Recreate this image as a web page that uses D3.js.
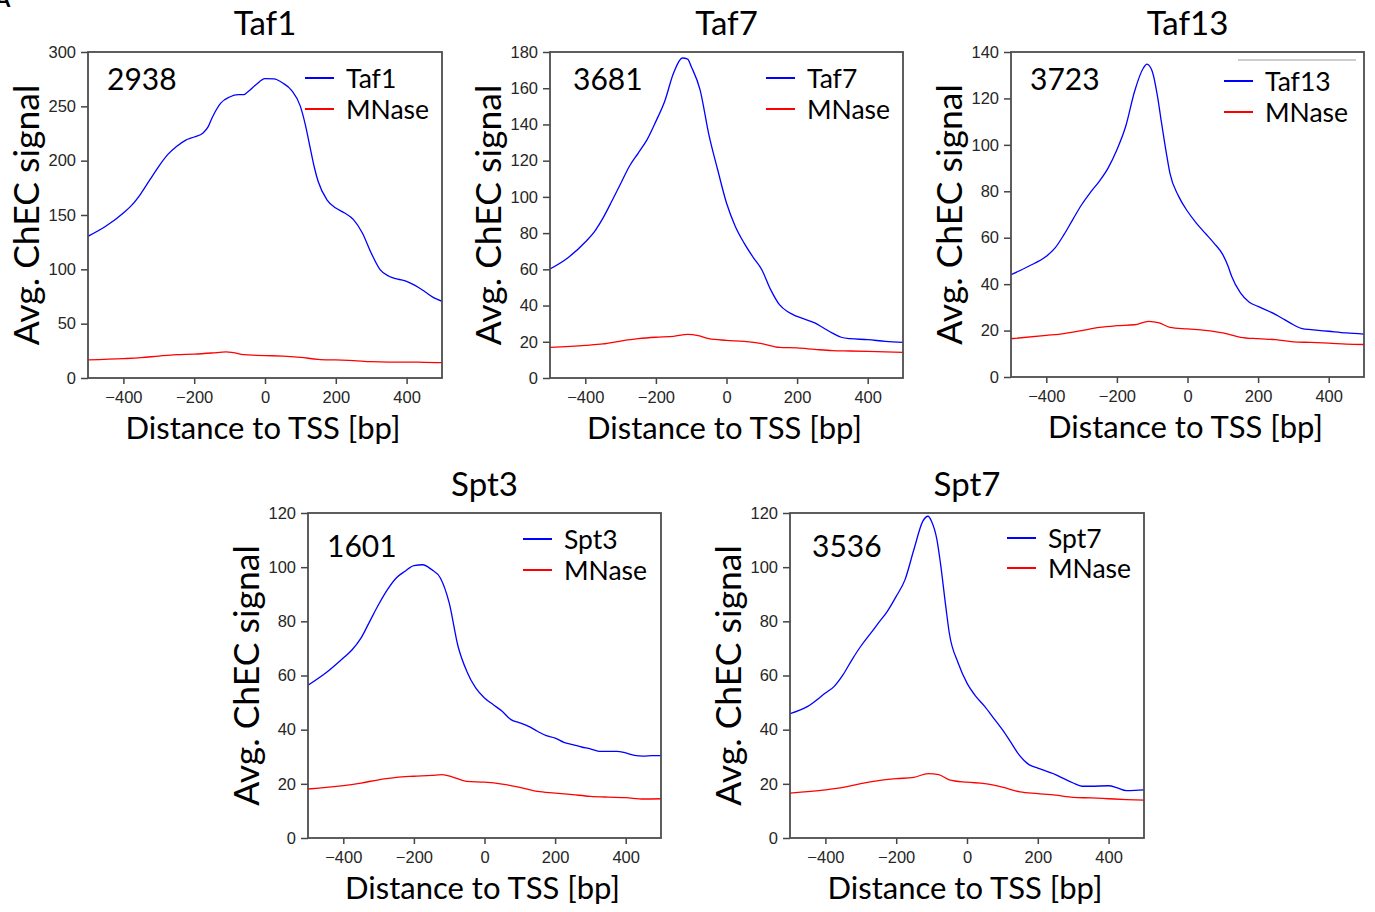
<!DOCTYPE html>
<html>
<head>
<meta charset="utf-8">
<script src="https://cdn.jsdelivr.net/npm/d3@7"></script>
<style>
  html, body { margin: 0; padding: 0; background: #fff; }
  svg { display: block; }
</style>
</head>
<body>
<svg id="chart" width="1375" height="912"></svg>
<script>
// ---------------- DATA ----------------
const xTicks = [-400, -200, 0, 200, 400];
const xDomain = [-500, 500];

// Taf1
const taf1Pos = [-500,-450,-400,-375,-350,-325,-300,-275,-250,-225,-200,-175,-160,-150,-125,-100,-75,-60,-50,-25,0,25,50,75,100,115,125,140,150,175,200,225,250,275,300,325,350,375,400,425,450,475,500];
const taf1Vals = [130.4,139.6,151.8,159.5,170,182.5,194.8,205.5,213,218.7,221.8,225.5,231.6,239,253,258.6,260.7,260.7,262.9,270,275.5,275.2,271.5,264.7,250,231.6,216,193,181,164,156.4,151.8,145.7,133.4,115,99.7,93.6,91,89,85,79.8,74.2,70.6];
const taf1MPos = [-500,-400,-350,-300,-250,-200,-150,-110,-90,-60,-25,0,50,100,150,200,250,300,350,400,450,500];
const taf1MVals = [16.6,17.8,18.7,20.2,21.5,22,23,24,23.3,21.5,20.9,20.6,20.2,19,17.2,16.6,16,15,14.7,14.7,14.4,14.1];
const taf1YTicks = [0, 50, 100, 150, 200, 250, 300];

// Taf7
const taf7Pos = [-500,-450,-400,-375,-350,-325,-300,-275,-250,-225,-200,-175,-150,-125,-110,-100,-75,-50,-25,0,25,50,75,100,125,150,175,200,250,275,300,325,350,400,450,500];
const taf7Vals = [60.2,66.3,75.1,80.6,88.3,97.6,107.3,116.9,124.2,131.6,141.7,152.8,168.4,176.7,176.1,172,159.2,134.4,115,96.6,83.7,74.5,66.8,59.8,48.8,40.5,36.4,34,30.4,27.6,24.8,22.5,21.7,21.2,20.2,19.7];
const taf7MPos = [-500,-400,-350,-300,-250,-200,-150,-110,-80,-50,0,50,100,150,200,250,300,350,400,450,500];
const taf7MVals = [16.9,18,18.8,20.4,21.7,22.5,23,24.1,23.4,21.7,20.8,20.2,19,16.9,16.6,15.8,15.1,14.9,14.7,14.4,14.2];
const taf7YTicks = [0, 20, 40, 60, 80, 100, 120, 140, 160, 180];

// Taf13
const taf13Pos = [-500,-450,-400,-375,-350,-325,-300,-275,-250,-225,-200,-175,-150,-125,-115,-100,-85,-75,-60,-50,-25,0,25,50,75,100,115,125,150,175,200,250,275,300,325,350,400,450,500];
const taf13Vals = [44.1,47.7,52,55.6,61.3,67.8,74.2,79.5,84.3,90,97.9,108,123,133.1,134.8,131.7,120.9,110.9,96.5,87.9,77.8,71.4,66.3,62,57.7,52.7,47.7,43.4,36.2,32.2,30.4,26.9,24.7,22.5,20.8,20.4,19.7,19,18.5];
const taf13MPos = [-500,-400,-350,-300,-250,-200,-150,-110,-80,-50,0,50,100,150,200,250,300,350,400,450,500];
const taf13MVals = [16.5,17.9,18.7,20,21.4,22.1,22.5,24,23.3,21.4,20.7,20.1,19,17.1,16.5,16.1,15.1,14.9,14.6,14.2,14];
const taf13YTicks = [0, 20, 40, 60, 80, 100, 120, 140];

// Spt3
const spt3Pos = [-500,-450,-400,-375,-350,-325,-300,-275,-250,-225,-200,-175,-150,-125,-100,-75,-50,-25,0,25,50,75,100,125,150,175,200,225,250,275,300,325,350,375,400,425,450,475,500];
const spt3Vals = [56.4,60.9,66.5,69.5,73.8,80,86.2,91.7,96,98.5,100.6,100.9,99.1,96,86.8,70.8,61.5,55.4,51.7,49.2,46.8,43.7,42.5,41.2,39.4,37.8,36.9,35.3,34.5,33.6,32.9,32,32,32,31.4,30.5,30.2,30.4,30.4];
const spt3MPos = [-500,-400,-350,-300,-250,-200,-150,-120,-90,-50,0,50,100,150,200,250,300,350,400,450,500];
const spt3MVals = [18.1,19.3,20.3,21.5,22.4,22.8,23.1,23.4,22.5,20.9,20.6,19.9,18.7,17.2,16.6,16,15.4,15.1,14.9,14.4,14.5];
const spt3YTicks = [0, 20, 40, 60, 80, 100, 120];

// Spt7
const spt7Pos = [-500,-450,-400,-375,-350,-325,-300,-275,-250,-225,-200,-175,-150,-125,-110,-100,-85,-75,-60,-50,-25,0,25,50,75,100,125,150,175,200,250,275,300,325,350,400,425,450,475,500];
const spt7Vals = [45.9,48.6,53.5,56,60.3,65.8,70.8,75.1,79.4,83.7,89.2,95.4,106.5,116.9,118.8,116.9,110.2,101.5,85.5,75.7,64.6,57.2,52.3,48.6,44.3,40,35.1,30.2,27.1,25.8,23.4,21.8,20.3,19.1,19.1,19.3,18.5,17.5,17.6,17.8];
const spt7MPos = [-500,-400,-350,-300,-250,-200,-150,-110,-80,-50,0,50,100,150,200,250,300,350,400,450,500];
const spt7MVals = [16.6,17.8,18.7,20.1,21.2,21.9,22.4,23.8,23.4,21.5,20.6,20.1,18.8,17,16.4,15.8,15,14.8,14.5,14.2,14];
const spt7YTicks = [0, 20, 40, 60, 80, 100, 120];

const titles = ["Taf1", "Taf7", "Taf13", "Spt3", "Spt7"];
const counts = ["2938", "3681", "3723", "1601", "3536"];
const yLabel = "Avg. ChEC signal";
const xLabel = "Distance to TSS [bp]";
const controlName = "MNase";

// ---------------- LAYOUT ----------------
const layout = [
  {left: 88,   top: 52,  w: 354, h: 326, ann: [19, 38], leg: [217, 26, 57]},
  {left: 550,  top: 52,  w: 353, h: 326, ann: [23, 38], leg: [216, 26, 57]},
  {left: 1011, top: 52,  w: 353, h: 325, ann: [19, 38], leg: [213, 29, 60]},
  {left: 308,  top: 513, w: 353, h: 325, ann: [19, 44], leg: [215, 26, 57]},
  {left: 790,  top: 513, w: 354, h: 325, ann: [22, 44], leg: [217, 25, 55]}
];

const series = [
  {pos: taf1Pos,  vals: taf1Vals,  mpos: taf1MPos,  mvals: taf1MVals,  yt: taf1YTicks},
  {pos: taf7Pos,  vals: taf7Vals,  mpos: taf7MPos,  mvals: taf7MVals,  yt: taf7YTicks},
  {pos: taf13Pos, vals: taf13Vals, mpos: taf13MPos, mvals: taf13MVals, yt: taf13YTicks},
  {pos: spt3Pos,  vals: spt3Vals,  mpos: spt3MPos,  mvals: spt3MVals,  yt: spt3YTicks},
  {pos: spt7Pos,  vals: spt7Vals,  mpos: spt7MPos,  mvals: spt7MVals,  yt: spt7YTicks}
];

const svg = d3.select("#chart");
const labelFont = "Lato, 'Open Sans', sans-serif";
const tickFont = "'Liberation Sans', Arial, sans-serif";

// stray panel letter at the top-left corner (mostly outside the picture)
svg.append("text").attr("x", -5).attr("y", 7).attr("font-family", labelFont)
  .attr("font-weight", "bold").attr("font-size", 22).attr("fill", "#000").text("A");

series.forEach((s, i) => {
  const L = layout[i];
  const g = svg.append("g").attr("transform", `translate(${L.left},${L.top})`);
  const x = d3.scaleLinear().domain(xDomain).range([0, L.w]);
  const y = d3.scaleLinear().domain([0, d3.max(s.yt)]).range([L.h, 0]);

  // axes
  const xa = g.append("g").attr("transform", `translate(0,${L.h})`)
    .call(d3.axisBottom(x).tickValues(xTicks).tickSize(6).tickPadding(7)
      .tickFormat(d => d < 0 ? "\u2212" + Math.abs(d) : String(d)));
  const ya = g.append("g")
    .call(d3.axisLeft(y).tickValues(s.yt).tickSize(7).tickPadding(5));
  [xa, ya].forEach(a => {
    a.select(".domain").remove();
    a.selectAll(".tick line").attr("stroke", "#444").attr("stroke-width", 1.5);
    a.selectAll(".tick text").attr("font-family", tickFont).attr("font-size", 16.5).attr("fill", "#262626");
  });

  const clipId = "clip" + i;
  g.append("clipPath").attr("id", clipId).append("rect")
    .attr("x", 0).attr("y", 0).attr("width", L.w).attr("height", L.h);

  const line = d3.line().x(d => x(d[0])).y(d => y(d[1])).curve(d3.curveMonotoneX);
  const blue = s.pos.map((p, k) => [p, s.vals[k]]);
  const red = s.mpos.map((p, k) => [p, s.mvals[k]]);

  g.append("path").attr("d", line(red)).attr("fill", "none")
    .attr("stroke", "#ff0000").attr("stroke-width", 1.3).attr("clip-path", `url(#${clipId})`);
  g.append("path").attr("d", line(blue)).attr("fill", "none")
    .attr("stroke", "#0000ff").attr("stroke-width", 1.3).attr("clip-path", `url(#${clipId})`);

  // frame
  g.append("rect").attr("x", 0).attr("y", 0).attr("width", L.w).attr("height", L.h)
    .attr("fill", "none").attr("stroke", "#4d4d4d").attr("stroke-width", 1.8);

  // title
  g.append("text").attr("x", L.w / 2).attr("y", -17).attr("text-anchor", "middle")
    .attr("font-family", labelFont).attr("font-size", 33).attr("fill", "#000").text(titles[i]);
  // x label
  g.append("text").attr("x", L.w / 2 - 2).attr("y", L.h + 61).attr("text-anchor", "middle")
    .attr("font-family", labelFont).attr("font-size", 31).attr("fill", "#000").text(xLabel);
  // y label
  g.append("text").attr("transform", `translate(${-49},${L.h / 2}) rotate(-90)`)
    .attr("text-anchor", "middle")
    .attr("font-family", labelFont).attr("font-size", 35.5).attr("fill", "#000").text(yLabel);
  // count annotation
  g.append("text").attr("x", L.ann[0]).attr("y", L.ann[1])
    .attr("font-family", labelFont).attr("font-size", 30).attr("fill", "#000").text(counts[i]);

  // legend
  const lx = L.leg[0];
  [[titles[i], "#0000ff", L.leg[1]], [controlName, "#ff0000", L.leg[2]]].forEach(([name, col, ly]) => {
    g.append("line").attr("x1", lx).attr("x2", lx + 29).attr("y1", ly).attr("y2", ly)
      .attr("stroke", col).attr("stroke-width", 2);
    g.append("text").attr("x", lx + 41).attr("y", ly + 10)
      .attr("font-family", labelFont).attr("font-size", 26.5).attr("fill", "#000").text(name);
  });

  if (i === 2) {
    g.append("line").attr("x1", 227).attr("x2", 345).attr("y1", 8).attr("y2", 8)
      .attr("stroke", "#9a9a9a").attr("stroke-width", 1);
  }
});
</script>
</body>
</html>
